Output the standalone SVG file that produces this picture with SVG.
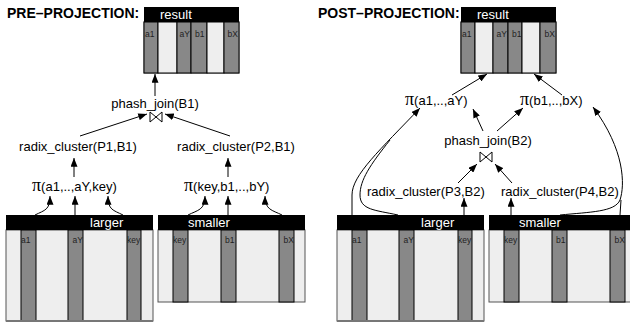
<svg xmlns="http://www.w3.org/2000/svg" width="630" height="325" viewBox="0 0 630 325">
<style>
.t{font-family:"Liberation Sans",Arial,sans-serif;font-size:13px;fill:#000}
.h{font-family:"Liberation Sans",Arial,sans-serif;font-size:13px;fill:#fff}
.ttl{font-family:"Liberation Sans",Arial,sans-serif;font-size:14px;font-weight:bold;fill:#000}
.pi{font-family:"Liberation Serif","Times New Roman",serif;font-size:18px}
.c{font-family:"Liberation Sans",Arial,sans-serif;font-size:8.5px;fill:#222}
.hdr{fill:#000}
.body{fill:#eeeeee;stroke:#555;stroke-width:1}
.dk{fill:#888;stroke:#000;stroke-width:1}
.lt{fill:#eeeeee;stroke:#000;stroke-width:1}
.e{fill:none;stroke:#000;stroke-width:1}
.bt{fill:none;stroke:#000;stroke-width:1}
.bb{stroke:#777;stroke-width:2}
</style>
<defs>
<marker id="ah" viewBox="0 0 10 8" refX="10" refY="4" markerWidth="9" markerHeight="7" markerUnits="userSpaceOnUse" orient="auto">
<path d="M0,0 L10,4 L0,8 z" fill="#000"/>
</marker>
</defs>

<text class="ttl" x="7" y="18">PRE–PROJECTION:</text>
<text class="ttl" x="318" y="18">POST–PROJECTION:</text>

<g id="result-left">
<rect class="body" x="144" y="22" width="95" height="51"/>
<rect class="dk" x="144" y="22" width="14" height="51"/>
<rect class="lt" x="158" y="22" width="19" height="51"/>
<rect class="dk" x="177" y="22" width="14" height="51"/>
<rect class="dk" x="191" y="22" width="16" height="51"/>
<rect class="lt" x="207" y="22" width="17" height="51"/>
<rect class="dk" x="224" y="22" width="15" height="51"/>
<rect class="hdr" x="144" y="7" width="95" height="15"/>
<text class="h" x="160" y="19">result</text>
<text class="c" x="145" y="37">a1</text>
<text class="c" x="190" y="37" text-anchor="end">aY</text>
<text class="c" x="195" y="37">b1</text>
<text class="c" x="238" y="37" text-anchor="end">bX</text>
</g>

<g id="result-right">
<rect class="body" x="461" y="22" width="95" height="51"/>
<rect class="dk" x="461" y="22" width="14" height="51"/>
<rect class="lt" x="475" y="22" width="18" height="51"/>
<rect class="dk" x="493" y="22" width="15" height="51"/>
<rect class="dk" x="508" y="22" width="14" height="51"/>
<rect class="lt" x="522" y="22" width="18" height="51"/>
<rect class="dk" x="540" y="22" width="16" height="51"/>
<rect class="hdr" x="461" y="7" width="95" height="15"/>
<text class="h" x="477" y="19">result</text>
<text class="c" x="462" y="37">a1</text>
<text class="c" x="507" y="37" text-anchor="end">aY</text>
<text class="c" x="512" y="37">b1</text>
<text class="c" x="555" y="37" text-anchor="end">bX</text>
</g>

<g id="larger-left">
<rect class="body" x="6" y="230" width="147" height="91"/>
<rect class="dk" x="21" y="230" width="15" height="91"/>
<rect class="dk" x="68" y="230" width="15" height="91"/>
<rect class="dk" x="127" y="230" width="14" height="91"/>
<line class="bb" x1="6" y1="321" x2="153" y2="321"/>
<rect class="hdr" x="6" y="215" width="147" height="15"/>
<text class="h" x="90" y="227">larger</text>
<text class="c" x="21" y="243">a1</text>
<text class="c" x="83" y="243" text-anchor="end">aY</text>
<text class="c" x="127" y="243">key</text>
</g>

<g id="smaller-left">
<rect class="body" x="158" y="230" width="147" height="72"/>
<rect class="dk" x="173" y="230" width="15" height="72"/>
<rect class="dk" x="221" y="230" width="15" height="72"/>
<rect class="dk" x="279" y="230" width="15" height="72"/>
<rect class="hdr" x="158" y="215" width="147" height="15"/>
<text class="h" x="188" y="227">smaller</text>
<text class="c" x="173" y="243">key</text>
<text class="c" x="225" y="243">b1</text>
<text class="c" x="294" y="243" text-anchor="end">bX</text>
</g>

<g id="larger-right">
<rect class="body" x="337" y="230" width="147" height="91"/>
<rect class="dk" x="352" y="230" width="15" height="91"/>
<rect class="dk" x="399" y="230" width="15" height="91"/>
<rect class="dk" x="458" y="230" width="14" height="91"/>
<line class="bb" x1="337" y1="321" x2="484" y2="321"/>
<rect class="hdr" x="337" y="215" width="147" height="15"/>
<text class="h" x="421" y="227">larger</text>
<text class="c" x="352" y="243">a1</text>
<text class="c" x="414" y="243" text-anchor="end">aY</text>
<text class="c" x="458" y="243">key</text>
</g>

<g id="smaller-right">
<rect class="body" x="489" y="230" width="147" height="72"/>
<rect class="dk" x="504" y="230" width="15" height="72"/>
<rect class="dk" x="552" y="230" width="15" height="72"/>
<rect class="dk" x="610" y="230" width="15" height="72"/>
<rect class="hdr" x="489" y="215" width="147" height="15"/>
<text class="h" x="519" y="227">smaller</text>
<text class="c" x="504" y="243">key</text>
<text class="c" x="556" y="243">b1</text>
<text class="c" x="625" y="243" text-anchor="end">bX</text>
</g>

<g id="phash-left">
<text class="t" x="155" y="108" text-anchor="middle">phash_join(B1)</text>
<path class="bt" d="M150,112 L162,122 L162,112 L150,122 Z"/>
</g>
<g id="radix-p1"><text class="t" x="78" y="151" text-anchor="middle">radix_cluster(P1,B1)</text></g>
<g id="radix-p2"><text class="t" x="236" y="151" text-anchor="middle">radix_cluster(P2,B1)</text></g>
<g id="pi-left-a"><text class="t" x="32" y="191"><tspan class="pi">π</tspan>(a1,..,aY,key)</text></g>
<g id="pi-left-b"><text class="t" x="184" y="191"><tspan class="pi">π</tspan>(key,b1,..,bY)</text></g>

<g id="pi-right-a"><text class="t" x="405" y="105"><tspan class="pi">π</tspan>(a1,..,aY)</text></g>
<g id="pi-right-b"><text class="t" x="520" y="105"><tspan class="pi">π</tspan>(b1,..,bX)</text></g>
<g id="phash-right">
<text class="t" x="488" y="145" text-anchor="middle">phash_join(B2)</text>
<path class="bt" d="M480,152 L492,162 L492,152 L480,162 Z"/>
</g>
<g id="radix-p3"><text class="t" x="367" y="196">radix_cluster(P3,B2)</text></g>
<g id="radix-p4"><text class="t" x="501" y="196">radix_cluster(P4,B2)</text></g>

<g id="connectors">
<path class="e" d="M155,96 L155,74" marker-end="url(#ah)"/>
<path class="e" d="M80,136 L147,114" marker-end="url(#ah)"/>
<path class="e" d="M230,136 L165,114" marker-end="url(#ah)"/>
<path class="e" d="M74,177 L74,158" marker-end="url(#ah)"/>
<path class="e" d="M228,177 L228,158" marker-end="url(#ah)"/>
<path class="e" d="M35,215 C45,210 50,210 50,196" marker-end="url(#ah)"/>
<path class="e" d="M75,215 L75,196" marker-end="url(#ah)"/>
<path class="e" d="M123,215 C113,210 108,210 108,196" marker-end="url(#ah)"/>
<path class="e" d="M188,215 C198,210 205,210 205,196" marker-end="url(#ah)"/>
<path class="e" d="M228,215 L228,196" marker-end="url(#ah)"/>
<path class="e" d="M282,215 C272,210 265,210 265,196" marker-end="url(#ah)"/>

<path class="e" d="M452,95 L487,74" marker-end="url(#ah)"/>
<path class="e" d="M562,95 L534,74" marker-end="url(#ah)"/>
<path class="e" d="M483,131 L473,109" marker-end="url(#ah)"/>
<path class="e" d="M497,131 L523,108" marker-end="url(#ah)"/>
<path class="e" d="M458,183 L477,164" marker-end="url(#ah)"/>
<path class="e" d="M512,183 L495,164" marker-end="url(#ah)"/>
<path class="e" d="M464,215 L464,198" marker-end="url(#ah)"/>
<path class="e" d="M511,215 L511,198" marker-end="url(#ah)"/>
<path class="e" d="M352,215 L352,195 C352,175 380,150 420,108" marker-end="url(#ah)"/>
<path class="e" d="M398,215 C375,210 360,210 360,195 C360,180 370,165 390,140"/>
<path class="e" d="M560,215 C590,212 615,212 620,200 C625,185 625,150 593,107" marker-end="url(#ah)"/>
<path class="e" d="M620,215 L621,200"/>
</g>
</svg>
